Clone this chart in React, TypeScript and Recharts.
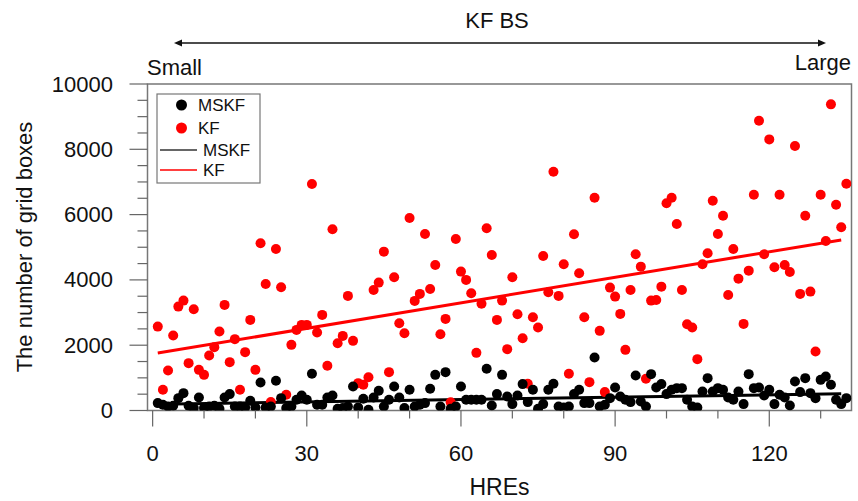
import { ScatterChart, Scatter, XAxis, YAxis, ReferenceArea, ReferenceLine } from "recharts";

// HRE numbers along the x axis
const hreIds = Array.from({ length: 135 }, (_, i) => i + 1);

// number of grid boxes per HRE, KF scheme
const kfCounts = [
  2570, 633, 1224, 2295, 3182, 3366, 1450, 3100, 1245, 1092,
  1683, 1940, 2417, 3234, 1481, 2185, 633, 1787, 2775, 1245,
  5122, 3877, 257, 4948, 3776, 480, 2010, 2469, 2622, 2622,
  6937, 2387, 2928, 1368, 5550, 2062, 2285, 3510, 2133, 838,
  786, 1021, 3693, 3917, 4866, 1175, 4082, 2674, 2368, 5896,
  3357, 3571, 5407, 3724, 4458, 2338, 2806, 250, 5254, 4254,
  4000, 3592, 1766, 3270, 5581, 4764, 2775, 3366, 1879, 4082,
  2950, 2215, 817, 2858, 2540, 4734, 3623, 7313, 3510, 4480,
  1123, 5398, 4204, 2858, 869, 6518, 2439, 563, 3764, 3488,
  2959, 1857, 3693, 4786, 4406, 970, 3366, 3387, 3794, 6346,
  6518, 5713, 3693, 2643, 2540, 1573, 4480, 4816, 6426, 5407,
  5967, 3540, 4948, 4039, 2653, 4284, 6610, 8874, 4786, 8303,
  4388, 6610, 4458, 4244, 8100, 3571, 5967, 3641, 1806, 6610,
  5193, 9376, 6304, 5612, 6946,
];

// number of grid boxes per HRE, MSKF scheme
const mskfCounts = [
  226, 174, 122, 144, 379, 532, 144, 73, 398, 73,
  122, 144, 52, 398, 502, 122, 122, 92, 297, 92,
  857, 92, 122, 909, 379, 73, 122, 327, 459, 327,
  1123, 174, 174, 398, 459, 52, 73, 122, 734, 92,
  358, 21, 398, 603, 122, 327, 734, 398, 73, 633,
  122, 174, 226, 664, 1092, 122, 1175, 52, 122, 734,
  327, 327, 327, 327, 1276, 153, 502, 1092, 428, 196,
  459, 808, 257, 633, 52, 196, 633, 817, 122, 92,
  122, 502, 633, 226, 226, 1622, 122, 174, 379, 704,
  428, 327, 257, 1071, 275, 122, 1114, 704, 808, 502,
  633, 685, 685, 327, 122, 92, 581, 991, 581, 685,
  633, 398, 327, 581, 196, 1114, 685, 704, 459, 633,
  196, 480, 398, 153, 888, 563, 991, 532, 379, 939,
  1040, 786, 327, 196, 379,
];

// trend line end points
const kfTrend = [
  { x: 1, y: 1760 },
  { x: 134, y: 5225 },
];
const mskfTrend = [
  { x: 1, y: 195 },
  { x: 134, y: 511 },
];

const xTicks = [0, 10, 20, 30, 40, 50, 60, 70, 80, 90, 100, 110, 120, 130];
const yTicks = [
  0, 500, 1000, 1500, 2000, 2500, 3000, 3500, 4000, 4500, 5000,
  5500, 6000, 6500, 7000, 7500, 8000, 8500, 9000, 9500, 10000,
];

const kfData = hreIds.map((id, i) => ({ x: id, y: kfCounts[i] }));
const mskfData = hreIds.map((id, i) => ({ x: id, y: mskfCounts[i] }));

const FONT = "'Liberation Sans', Arial, Helvetica, sans-serif";
const TICK_COLOR = "#666";

function XTick({ x, y, payload }: any) {
  const major = payload.value % 30 === 0;
  return (
    <g>
      <line x1={x} x2={x} y1={y} y2={y + (major ? 16 : 8)} stroke={TICK_COLOR} strokeWidth={1.2} />
      {major && (
        <text x={x} y={y + 43} textAnchor="middle" dominantBaseline="central" fontSize={22} fontFamily={FONT} fill="#111">
          {payload.value}
        </text>
      )}
    </g>
  );
}

function YTick({ x, y, payload }: any) {
  const major = payload.value % 2000 === 0;
  return (
    <g>
      <line x1={x} x2={x - (major ? 18 : 10)} y1={y} y2={y} stroke={TICK_COLOR} strokeWidth={1.2} />
      {major && (
        <text x={x - 34.5} y={y} textAnchor="end" dominantBaseline="central" fontSize={22} fontFamily={FONT} fill="#111">
          {payload.value}
        </text>
      )}
    </g>
  );
}

function Dot({ cx, cy, fill }: any) {
  return <circle cx={cx} cy={cy} r={5} fill={fill} />;
}

function Overlay() {
  return (
    <svg width={858} height={501} style={{ position: "absolute", left: 0, top: 0, pointerEvents: "none" }} fontFamily={FONT}>
      <text x={497} y={20} textAnchor="middle" dominantBaseline="central" fontSize={22} fill="#111">KF BS</text>
      <line x1={178} x2={822} y1={43} y2={43} stroke="#111" strokeWidth={1.5} />
      <path d="M174,43 L182,39.5 L182,46.5 Z" fill="#111" />
      <path d="M826,43 L818,39.5 L818,46.5 Z" fill="#111" />
      <text x={147} y={67} dominantBaseline="central" fontSize={22} fill="#111">Small</text>
      <text x={851} y={62} textAnchor="end" dominantBaseline="central" fontSize={22} fill="#111">Large</text>
      <text x={499.5} y={487} textAnchor="middle" dominantBaseline="central" fontSize={23} fill="#111">HREs</text>
      <text
        transform="translate(24,247) rotate(-90)"
        textAnchor="middle"
        dominantBaseline="central"
        fontSize={22}
        fill="#111"
      >
        The number of grid boxes
      </text>

      <g transform="translate(157,94)">
        <rect x={0} y={0} width={103} height={89} fill="#fff" stroke="#777" strokeWidth={1.2} />
        <circle cx={24.5} cy={11} r={5.5} fill="#000" />
        <text x={41} y={11} dominantBaseline="central" fontSize={17} fill="#111">MSKF</text>
        <circle cx={24.5} cy={34} r={5.5} fill="#f00" />
        <text x={41} y={34} dominantBaseline="central" fontSize={17} fill="#111">KF</text>
        <line x1={3} x2={40} y1={56} y2={56} stroke="#333" strokeWidth={1.3} />
        <text x={46} y={56} dominantBaseline="central" fontSize={17} fill="#111">MSKF</text>
        <line x1={3} x2={40} y1={76} y2={76} stroke="#f00" strokeWidth={1.3} />
        <text x={46} y={76} dominantBaseline="central" fontSize={17} fill="#111">KF</text>
      </g>
    </svg>
  );
}

export default function App() {
  return (
    <div style={{ position: "absolute", left: 0, top: 0, width: 858, height: 501, background: "#fff" }}>
      <ScatterChart width={858} height={501} margin={{ top: 84, right: 6.5, bottom: 50.5, left: 87.5 }}>
        <XAxis
          type="number"
          dataKey="x"
          domain={[-1, 136]}
          ticks={xTicks}
          interval={0}
          height={40}
          axisLine={false}
          tickLine={false}
          tickSize={0}
          tickMargin={0}
          tick={<XTick />}
          allowDataOverflow
        />
        <YAxis
          type="number"
          dataKey="y"
          domain={[0, 10000]}
          ticks={yTicks}
          interval={0}
          width={60}
          axisLine={false}
          tickLine={false}
          tickSize={0}
          tickMargin={0}
          tick={<YTick />}
          allowDataOverflow
        />
        <Scatter name="KF" data={kfData} fill="#f00" shape={<Dot />} isAnimationActive={false} />
        <Scatter name="MSKF" data={mskfData} fill="#000" shape={<Dot />} isAnimationActive={false} />
        <ReferenceLine segment={kfTrend} stroke="#f00" strokeWidth={3} ifOverflow="visible" />
        <ReferenceLine segment={mskfTrend} stroke="#000" strokeWidth={3} ifOverflow="visible" />
        <ReferenceArea x1={-1} x2={136} y1={0} y2={10000} fill="none" stroke="#777" strokeWidth={1.5} ifOverflow="visible" />
      </ScatterChart>
      <Overlay />
    </div>
  );
}
